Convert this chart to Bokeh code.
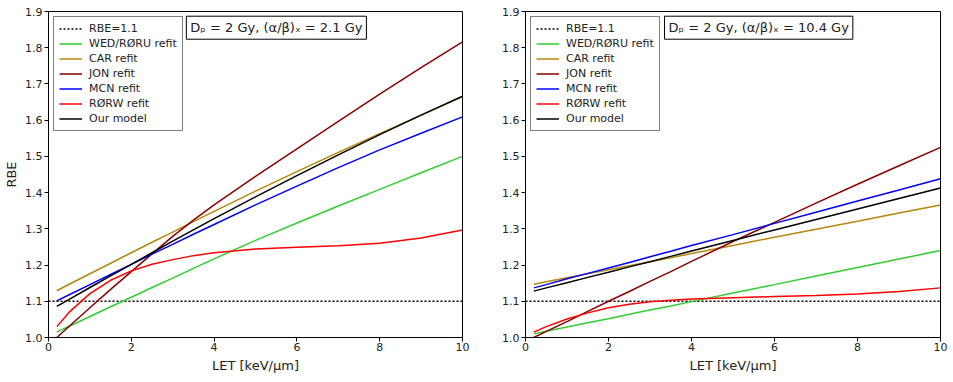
from bokeh.plotting import figure
from bokeh.layouts import row
from bokeh.models import Legend, LegendItem, Label, FixedTicker, Range1d, PrintfTickFormatter
from bokeh.embed import file_html
from bokeh.resources import INLINE

# ---------------- data ----------------
LET = [0.2, 0.5, 1, 1.5, 2, 2.5, 3, 3.5, 4, 5, 6, 7, 8, 9, 10]
X_LIMITS = [0, 10]
Y_LIMITS = [1.0, 1.9]
RBE_REF = 1.1
X_TICKS = [0, 2, 4, 6, 8, 10]
Y_TICKS = [1.0, 1.1, 1.2, 1.3, 1.4, 1.5, 1.6, 1.7, 1.8, 1.9]

labels = ["WED/RØRU refit", "CAR refit", "JON refit", "MCN refit", "RØRW refit", "Our model"]
colors = ["#32CD32", "#B8860B", "#8B0000", "#0000FF", "#FF0000", "#000000"]

# alpha/beta = 2.1 Gy
left_wed  = [1.015, 1.031, 1.058, 1.085, 1.111, 1.138, 1.164, 1.191, 1.217, 1.268, 1.316, 1.363, 1.409, 1.455, 1.500]
left_car  = [1.129, 1.147, 1.176, 1.205, 1.234, 1.263, 1.291, 1.320, 1.348, 1.404, 1.458, 1.511, 1.563, 1.614, 1.665]
left_jon  = [1.000, 1.031, 1.082, 1.133, 1.182, 1.231, 1.279, 1.324, 1.366, 1.445, 1.521, 1.597, 1.672, 1.745, 1.816]
left_mcn  = [1.101, 1.118, 1.146, 1.174, 1.202, 1.230, 1.257, 1.285, 1.312, 1.366, 1.418, 1.469, 1.518, 1.564, 1.609]
left_rorw = [1.030, 1.070, 1.121, 1.158, 1.184, 1.202, 1.215, 1.226, 1.234, 1.244, 1.249, 1.253, 1.260, 1.275, 1.297]
left_our  = [1.086, 1.105, 1.138, 1.170, 1.202, 1.234, 1.266, 1.297, 1.328, 1.388, 1.447, 1.504, 1.560, 1.614, 1.666]

# alpha/beta = 10.4 Gy
right_wed  = [1.010, 1.017, 1.029, 1.041, 1.052, 1.064, 1.076, 1.087, 1.099, 1.123, 1.146, 1.170, 1.193, 1.217, 1.240]
right_car  = [1.147, 1.154, 1.165, 1.176, 1.187, 1.198, 1.209, 1.220, 1.232, 1.254, 1.277, 1.299, 1.321, 1.344, 1.366]
right_jon  = [1.000, 1.017, 1.044, 1.072, 1.100, 1.127, 1.155, 1.182, 1.210, 1.265, 1.318, 1.371, 1.423, 1.474, 1.525]
right_mcn  = [1.137, 1.146, 1.162, 1.177, 1.192, 1.207, 1.223, 1.238, 1.254, 1.284, 1.315, 1.346, 1.377, 1.407, 1.438]
right_rorw = [1.015, 1.030, 1.051, 1.068, 1.082, 1.092, 1.099, 1.103, 1.106, 1.110, 1.113, 1.116, 1.120, 1.127, 1.137]
right_our  = [1.128, 1.137, 1.151, 1.166, 1.180, 1.195, 1.209, 1.224, 1.239, 1.268, 1.297, 1.326, 1.355, 1.384, 1.413]

left_series = [left_wed, left_car, left_jon, left_mcn, left_rorw, left_our]
right_series = [right_wed, right_car, right_jon, right_mcn, right_rorw, right_our]

left_title = "Dₚ = 2 Gy, (α/β)ₓ = 2.1 Gy"
right_title = "Dₚ = 2 Gy, (α/β)ₓ = 10.4 Gy"

FONT = "DejaVu Sans"


def make_panel(series, title, show_ylabel, frame_w, border_left, border_right, label_x):
    p = figure(frame_width=frame_w, frame_height=326, output_backend="svg",
               toolbar_location=None,
               x_range=Range1d(*X_LIMITS), y_range=Range1d(*Y_LIMITS),
               min_border_left=border_left, min_border_right=border_right,
               min_border_top=11, min_border_bottom=44)
    p.xgrid.visible = False
    p.ygrid.visible = False
    p.outline_line_color = "black"
    p.outline_line_alpha = 1
    p.outline_line_width = 1
    p.background_fill_color = "white"
    p.border_fill_color = "white"

    for ax in (p.xaxis[0], p.yaxis[0]):
        ax.major_label_text_font = FONT
        ax.major_label_text_font_size = "11px"
        ax.major_label_text_color = "#222222"
        ax.axis_label_text_font = FONT
        ax.axis_label_text_font_size = "13px"
        ax.axis_label_text_font_style = "normal"
        ax.axis_label_text_color = "#222222"
        ax.minor_tick_line_color = None
        ax.major_tick_in = 0
        ax.major_tick_out = 4
        ax.axis_line_color = "black"
        ax.major_tick_line_color = "black"
    p.xaxis.major_label_standoff = 1
    p.xaxis.axis_label_standoff = 4
    p.yaxis.major_label_standoff = 2
    p.yaxis.axis_label_standoff = 3
    p.xaxis.ticker = FixedTicker(ticks=X_TICKS)
    p.yaxis.ticker = FixedTicker(ticks=Y_TICKS)
    p.yaxis.formatter = PrintfTickFormatter(format="%.1f")
    p.xaxis.axis_label = "LET [keV/μm]"
    if show_ylabel:
        p.yaxis.axis_label = "RBE"

    items = []
    r = p.line(X_LIMITS, [RBE_REF, RBE_REF], line_color="black", line_width=1.5, line_dash="2 2")
    items.append(LegendItem(label="RBE=1.1", renderers=[r]))
    for lab, col, ys in zip(labels, colors, series):
        r = p.line(LET, ys, line_color=col, line_width=1.5)
        items.append(LegendItem(label=lab, renderers=[r]))

    legend = Legend(items=items, location="top_left",
                    label_text_font=FONT, label_text_font_size="11px",
                    label_text_color="#222222",
                    glyph_width=23, glyph_height=13, label_height=13,
                    spacing=2, label_standoff=7, padding=5, margin=5,
                    border_line_color="black", border_line_width=1,
                    background_fill_color="white", background_fill_alpha=1)
    p.add_layout(legend)

    lbl = Label(x=label_x, y=1.887, text=title, anchor="top_left",
                text_font=FONT, text_font_size="13px", text_color="#222222",
                border_line_color="black", border_line_width=1,
                background_fill_color="white", padding=4)
    p.add_layout(lbl)
    return p


p1 = make_panel(left_series, left_title, True, 414, 48, 8, 3.33)
p2 = make_panel(right_series, right_title, False, 415, 55, 13, 3.35)

layout = row(p1, p2)
open("out.html", "w").write(file_html(layout, INLINE))
